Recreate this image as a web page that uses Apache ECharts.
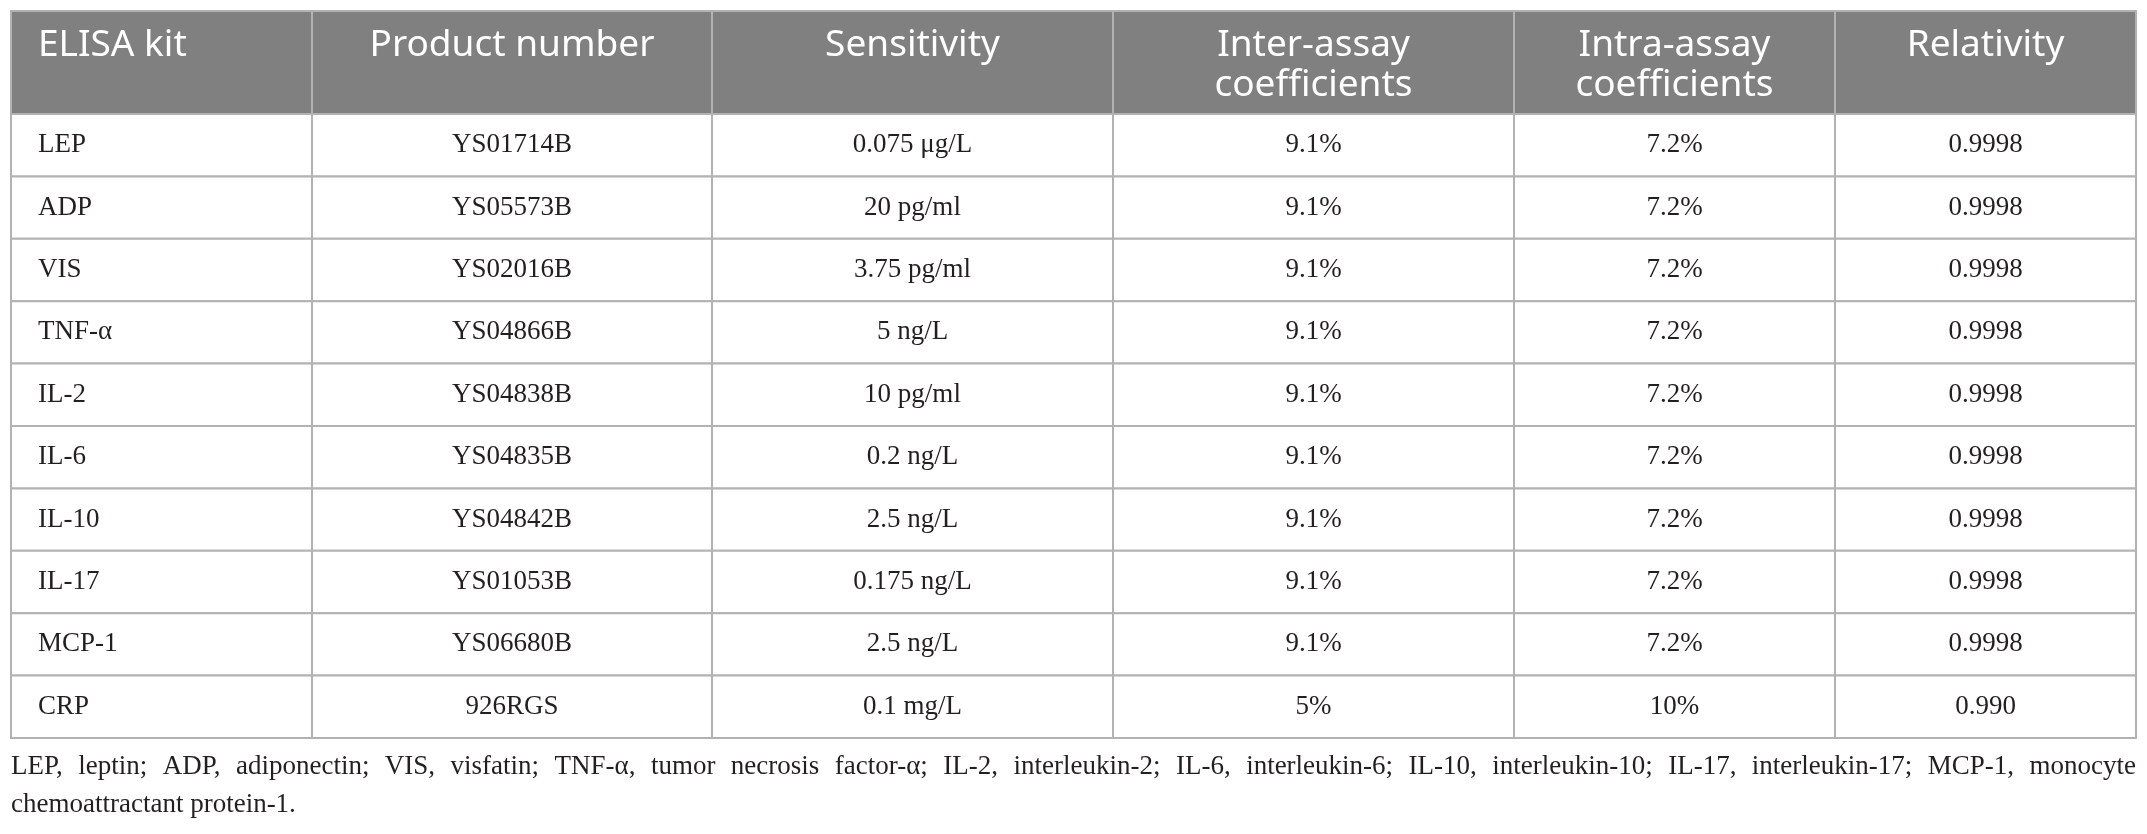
<!DOCTYPE html>
<html>
<head>
<meta charset="utf-8">
<title>ELISA kits</title>
<script src="https://cdn.jsdelivr.net/npm/echarts@6/dist/echarts.min.js"></script>
<style>
  html, body { margin: 0; padding: 0; background: #fff; }
  #main { width: 2147px; height: 834px; }
</style>
</head>
<body>
<div id="main"></div>
<script type="text/javascript">
// table content
var headers = ['ELISA kit', 'Product number', 'Sensitivity', 'Inter-assay\ncoefficients', 'Intra-assay\ncoefficients', 'Relativity'];
var kits = ['LEP', 'ADP', 'VIS', 'TNF-α', 'IL-2', 'IL-6', 'IL-10', 'IL-17', 'MCP-1', 'CRP'];
var productNumbers = ['YS01714B', 'YS05573B', 'YS02016B', 'YS04866B', 'YS04838B', 'YS04835B', 'YS04842B', 'YS01053B', 'YS06680B', '926RGS'];
var sensitivity = ['0.075 μg/L', '20 pg/ml', '3.75 pg/ml', '5 ng/L', '10 pg/ml', '0.2 ng/L', '2.5 ng/L', '0.175 ng/L', '2.5 ng/L', '0.1 mg/L'];
var interAssay = [9.1, 9.1, 9.1, 9.1, 9.1, 9.1, 9.1, 9.1, 9.1, 5];
var intraAssay = [7.2, 7.2, 7.2, 7.2, 7.2, 7.2, 7.2, 7.2, 7.2, 10];
var relativity = ['0.9998', '0.9998', '0.9998', '0.9998', '0.9998', '0.9998', '0.9998', '0.9998', '0.9998', '0.990'];
var footnoteLines = [
  'LEP, leptin; ADP, adiponectin; VIS, visfatin; TNF-α, tumor necrosis factor-α; IL-2, interleukin-2; IL-6, interleukin-6; IL-10, interleukin-10; IL-17, interleukin-17; MCP-1, monocyte',
  'chemoattractant protein-1.'
];

// layout (table units)
var colWidths = [301, 400, 401, 401, 321, 301];
var headerHeight = 103;
var rowHeight = 62.4;

var colEdges = [0];
colWidths.forEach(function (w, i) { colEdges.push(colEdges[i] + w); });
var rowEdges = [0, headerHeight];
kits.forEach(function (k, i) { rowEdges.push(rowEdges[i + 1] + rowHeight); });
var tableW = colEdges[colEdges.length - 1];
var tableH = rowEdges[rowEdges.length - 1];

function pct(v) { return v + '%'; }

var cells = [];
headers.forEach(function (h, c) { cells.push([c, 0, h]); });
kits.forEach(function (k, i) {
  var row = [k, productNumbers[i], sensitivity[i], pct(interAssay[i]), pct(intraAssay[i]), relativity[i]];
  row.forEach(function (t, c) { cells.push([c, i + 1, t]); });
});

var myCharts = echarts.init(document.getElementById('main'));

var gridLeft = 11, gridTop = 11;

// justified footnote
var fnFont = '27px "Liberation Serif"';
var ctx = document.createElement('canvas').getContext('2d');
ctx.font = fnFont;
var graphics = [];
var fnY = [767, 805];
footnoteLines.forEach(function (line, li) {
  if (li < footnoteLines.length - 1) {
    var words = line.split(' ');
    var sum = 0;
    words.forEach(function (w) { sum += ctx.measureText(w).width; });
    var gap = (tableW - sum) / (words.length - 1);
    var x = gridLeft;
    words.forEach(function (w) {
      graphics.push({ type: 'text', x: x, y: fnY[li], style: { text: w, font: fnFont, fill: '#231f20', verticalAlign: 'middle' } });
      x += ctx.measureText(w).width + gap;
    });
  } else {
    graphics.push({ type: 'text', x: gridLeft, y: fnY[li], style: { text: line, font: fnFont, fill: '#231f20', verticalAlign: 'middle' } });
  }
});

option = {
  animation: false,
  grid: { left: gridLeft, top: gridTop, width: tableW, height: tableH },
  xAxis: { type: 'value', min: 0, max: tableW, show: false },
  yAxis: { type: 'value', min: 0, max: tableH, inverse: true, show: false },
  graphic: graphics,
  series: [{
    type: 'custom',
    silent: true,
    data: cells,
    renderItem: function (params, api) {
      var c = api.value(0), r = api.value(1);
      var text = cells[params.dataIndex][2];
      var p0 = api.coord([colEdges[c], rowEdges[r]]);
      var p1 = api.coord([colEdges[c + 1], rowEdges[r + 1]]);
      var isHead = r === 0;
      var left = c === 0;
      var tx = left ? p0[0] + 27 : (p0[0] + p1[0]) / 2;
      return {
        type: 'group',
        children: [{
          type: 'rect',
          shape: { x: p0[0], y: p0[1], width: p1[0] - p0[0], height: p1[1] - p0[1] },
          style: { fill: isHead ? '#808080' : '#ffffff', stroke: '#b2b2b2', lineWidth: 2 }
        }, {
          type: 'text',
          z2: 10,
          style: isHead ? {
            text: text, x: tx, y: p0[1] + 14,
            font: '37px "Noto Sans"', lineHeight: 40,
            fill: '#ffffff', align: left ? 'left' : 'center', verticalAlign: 'top'
          } : {
            text: text, x: tx, y: (p0[1] + p1[1]) / 2,
            font: '27px "Liberation Serif"',
            fill: '#231f20', align: left ? 'left' : 'center', verticalAlign: 'middle'
          }
        }]
      };
    }
  }]
};
myCharts.setOption(option);
</script>
</body>
</html>
